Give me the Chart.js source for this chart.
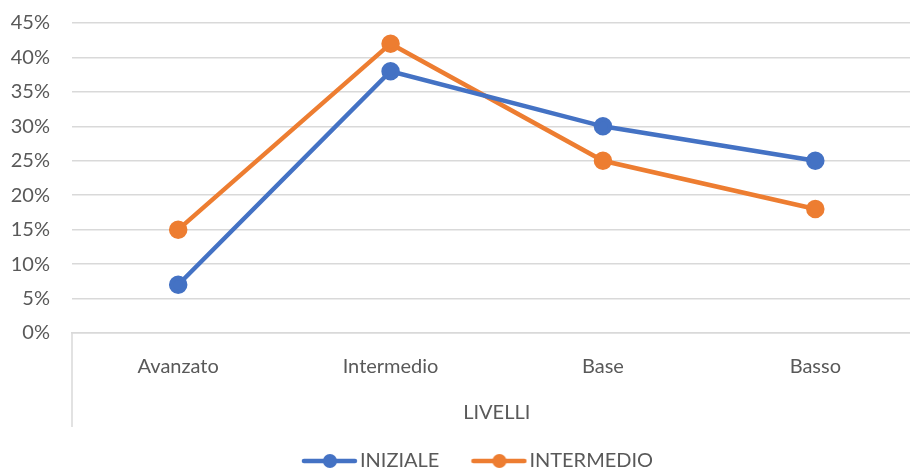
<!DOCTYPE html>
<html>
<head>
<meta charset="utf-8">
<script src="https://cdn.jsdelivr.net/npm/chart.js@4"></script>
<style>
  html, body { margin: 0; padding: 0; background: #fff; overflow: hidden; }
  #wrap { width: 933px; height: 481px; margin-top: -11px; }
</style>
</head>
<body>
<div id="wrap"><canvas id="chart"></canvas></div>
<script>
const livelli = ["Avanzato", "Intermedio", "Base", "Basso"];
const iniziale = [7, 38, 30, 25];
const intermedio = [15, 42, 25, 18];
const yMax = 45;
const yStep = 5;

const blue = "#4472C4";
const orange = "#ED7D31";
const grey = "#595959";
const gridGrey = "#D9D9D9";
const fontFam = "Lato";
const fontSize = 20;

// icona legenda: linea con pallino (spazio vuoto a sinistra per distanziare le voci)
function legendIcon(color) {
  const c = document.createElement("canvas");
  c.width = 86;
  c.height = 16;
  const ctx = c.getContext("2d");
  ctx.strokeStyle = color;
  ctx.lineWidth = 4.5;
  ctx.lineCap = "round";
  ctx.beginPath();
  ctx.moveTo(32, 8);
  ctx.lineTo(83, 8);
  ctx.stroke();
  ctx.fillStyle = color;
  ctx.beginPath();
  ctx.arc(58, 8, 7, 0, Math.PI * 2);
  ctx.fill();
  return c;
}

// linea verticale a sinistra sotto l'asse x (asse a più livelli)
const axisBorder = {
  id: "axisBorder",
  afterDraw(chart) {
    const { ctx, chartArea } = chart;
    ctx.save();
    ctx.strokeStyle = gridGrey;
    ctx.lineWidth = 1.5;
    ctx.beginPath();
    ctx.moveTo(chartArea.left, chartArea.bottom);
    ctx.lineTo(chartArea.left, chartArea.bottom + 94);
    ctx.stroke();
    ctx.restore();
  },
};

new Chart(document.getElementById("chart"), {
  type: "line",
  data: {
    labels: livelli,
    datasets: [
      {
        label: "INIZIALE",
        data: iniziale,
        borderColor: blue,
        backgroundColor: blue,
        borderWidth: 4.5,
        pointRadius: 7,
        pointHoverRadius: 7,
      },
      {
        label: "INTERMEDIO",
        data: intermedio,
        borderColor: orange,
        backgroundColor: orange,
        borderWidth: 4.5,
        pointRadius: 7,
        pointHoverRadius: 7,
      },
    ],
  },
  options: {
    responsive: true,
    maintainAspectRatio: false,
    animation: false,
    layout: { padding: { top: 0, left: 0, right: 0, bottom: -11 } },
    plugins: {
      tooltip: { enabled: false },
      legend: {
        position: "bottom",
        labels: {
          usePointStyle: true,
          pointStyleWidth: 70,
          padding: 10,
          color: grey,
          font: { family: fontFam, size: fontSize },
          generateLabels(chart) {
            return chart.data.datasets.map((ds, i) => ({
              text: ds.label,
              pointStyle: legendIcon(ds.borderColor),
              fillStyle: ds.borderColor,
              strokeStyle: ds.borderColor,
              lineWidth: 0,
              fontColor: grey,
              datasetIndex: i,
              hidden: false,
            }));
          },
        },
      },
    },
    scales: {
      x: {
        offset: true,
        grid: { display: true, drawOnChartArea: false, drawTicks: false, color: gridGrey, lineWidth: 1.5 },
        border: { display: true, color: gridGrey, width: 1.5 },
        ticks: { color: grey, font: { family: fontFam, size: fontSize }, padding: 22 },
        title: {
          display: true,
          text: "LIVELLI",
          color: grey,
          font: { family: fontFam, size: fontSize },
          padding: { top: 0, bottom: 16 },
        },
        afterFit(scale) { scale.height = 108; },
      },
      y: {
        min: 0,
        max: yMax,
        grid: { color: gridGrey, lineWidth: 1.5, drawTicks: false },
        border: { display: false },
        ticks: {
          stepSize: yStep,
          color: grey,
          padding: 22,
          font: { family: fontFam, size: fontSize },
          callback: (v) => v + "%",
        },
        afterFit(scale) { scale.width = 72; },
      },
    },
  },
  plugins: [axisBorder],
});
</script>
</body>
</html>
